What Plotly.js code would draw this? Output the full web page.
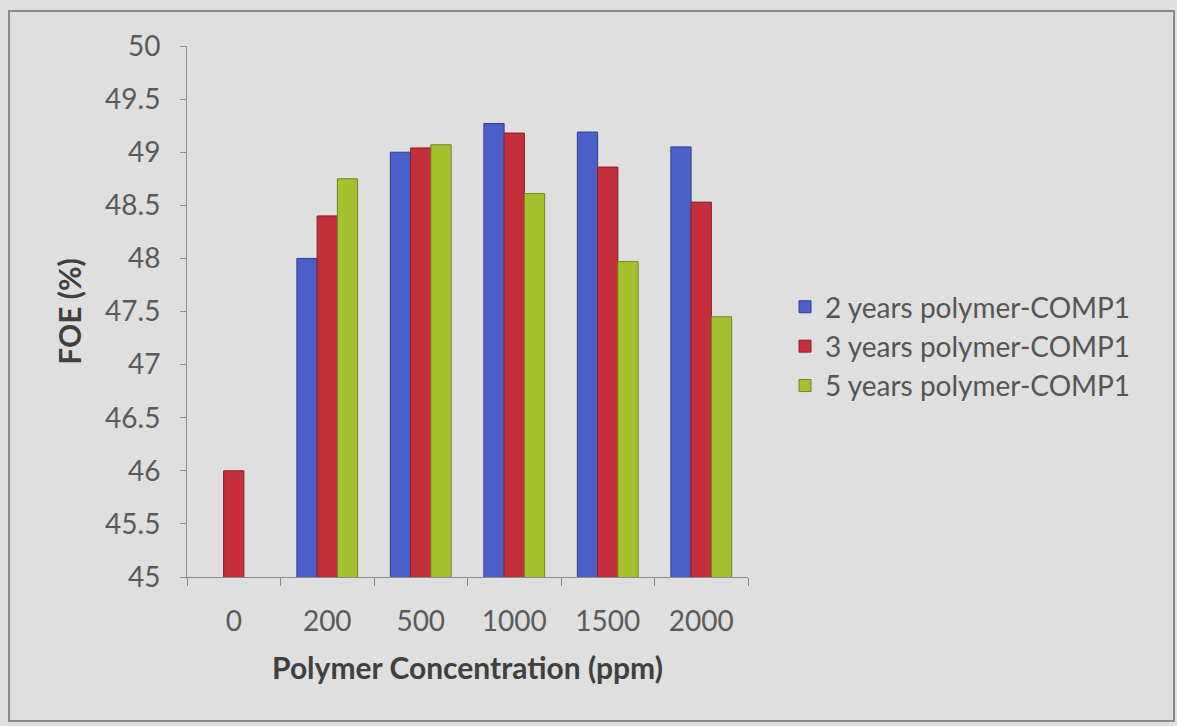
<!DOCTYPE html>
<html>
<head>
<meta charset="utf-8">
<script src="https://cdn.plot.ly/plotly-3.0.1.min.js"></script>
<style>
  html, body { margin: 0; padding: 0; background: #dfdfdf; }
  #wrap { position: relative; width: 1177px; height: 726px; }
  #chart { width: 1177px; height: 726px; }
  #frame { position: absolute; left: 8px; top: 10px; width: 1163px; height: 708px;
           border: 2px solid #8a8a8a; pointer-events: none; }
</style>
</head>
<body>
<div id="wrap">
  <div id="chart"></div>
  <div id="frame"></div>
</div>
<script>
const categories = ["0", "200", "500", "1000", "1500", "2000"];
const seriesNames = ["2 years polymer-COMP1", "3 years polymer-COMP1", "5 years polymer-COMP1"];
const years2 = [null, 48.0, 49.0, 49.27, 49.19, 49.05];
const years3 = [46.0, 48.4, 49.04, 49.18, 48.86, 48.53];
const years5 = [null, 48.75, 49.07, 48.61, 47.97, 47.45];
const yTickVals = [45, 45.5, 46, 46.5, 47, 47.5, 48, 48.5, 49, 49.5, 50];

const colors = ["#4b5fc9", "#c52f3b", "#a5c22e"];
const lineColors = ["#2e3f8f", "#8a1f28", "#6f8520"];
const seriesValues = [years2, years3, years5];

const traces = seriesValues.map((vals, i) => ({
  type: "bar",
  name: seriesNames[i],
  x: categories,
  y: vals,
  marker: { color: colors[i], line: { color: lineColors[i], width: 1 } },
  hoverinfo: "x+y+name"
}));

const layout = {
  width: 1177,
  height: 726,
  paper_bgcolor: "#dfdfdf",
  plot_bgcolor: "rgba(0,0,0,0)",
  margin: { l: 187, r: 429, t: 46, b: 149 },
  font: { family: "Lato, 'Open Sans', sans-serif", size: 28, color: "#5a5a5a" },
  barmode: "group",
  bargap: 0.35,
  bargroupgap: 0,
  showlegend: true,
  legend: {
    x: 1.066, xanchor: "left",
    y: 0.434, yanchor: "middle",
    bgcolor: "rgba(0,0,0,0)",
    font: { size: 28, color: "#555555" },
    itemwidth: 30
  },
  xaxis: {
    type: "category",
    categoryorder: "array",
    categoryarray: categories,
    showline: true,
    linecolor: "#8c8c8c",
    linewidth: 1,
    ticks: "outside",
    tickson: "boundaries",
    ticklen: 8,
    tickcolor: "#8c8c8c",
    showgrid: false,
    zeroline: false,
    tickfont: { size: 28, color: "#5a5a5a" },
    ticklabelstandoff: 19,
    title: {
      text: "<b>Polymer Concentration (ppm)</b>",
      font: { size: 30, color: "#404040" },
      standoff: 22
    }
  },
  yaxis: {
    range: [45, 50],
    tickvals: yTickVals,
    ticktext: yTickVals.map(v => String(v)),
    showline: true,
    linecolor: "#8c8c8c",
    linewidth: 1,
    ticks: "outside",
    ticklen: 6,
    tickcolor: "#8c8c8c",
    showgrid: false,
    zeroline: false,
    tickfont: { size: 28, color: "#5a5a5a" },
    ticklabelstandoff: 14,
    title: {
      text: "<b>FOE (%)</b>",
      font: { size: 30, color: "#404040" },
      standoff: 14
    }
  }
};

Plotly.newPlot("chart", traces, layout, { displayModeBar: false, staticPlot: true });
</script>
</body>
</html>
